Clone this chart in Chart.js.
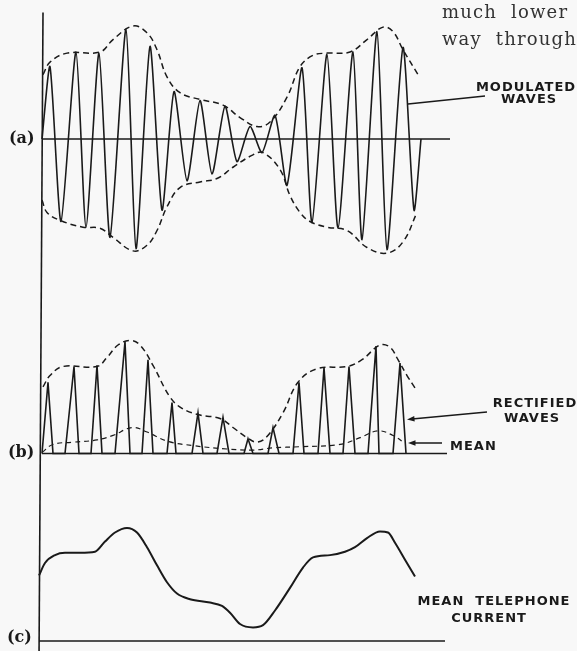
<!DOCTYPE html>
<html>
<head>
<meta charset="utf-8">
<script src="https://cdn.jsdelivr.net/npm/chart.js@4/dist/chart.umd.min.js"></script>
<style>
	html, body { margin: 0; padding: 0; background: #f8f8f8; }
	#wrap { position: relative; width: 577px; height: 651px; }
</style>
</head>
<body>
<div id="wrap"><canvas id="ondas" width="577" height="651"></canvas></div>
<script>
// (a) onda modulada: picos e vales da portadora (tempo, amplitude)
const carrierT = [0.0, 0.8, 1.9, 3.4, 4.4, 5.7, 6.8, 8.4, 9.4, 10.8, 12.0, 13.2, 14.5, 15.8, 17.0, 18.3, 19.5, 20.8, 22.0, 23.3, 24.5, 26.0, 27.0, 28.5, 29.6, 31.1, 32.0, 33.5, 34.5, 36.1, 37.2, 37.9];
const carrierV = [0, 0.64, -0.73, 0.77, -0.78, 0.76, -0.87, 0.97, -0.97, 0.82, -0.63, 0.42, -0.37, 0.34, -0.31, 0.29, -0.20, 0.11, -0.12, 0.21, -0.41, 0.63, -0.74, 0.75, -0.79, 0.77, -0.89, 0.95, -0.98, 0.81, -0.63, 0];

// envoltória superior e inferior (tracejada)
const envUpT = [0.1, 0.8, 2.5, 5.8, 7.1, 9.1, 10.5, 11.5, 12.5, 13.8, 15.8, 18.1, 19.8, 21.5, 22.8, 24.5, 25.8, 27.1, 28.5, 30.8, 32.5, 34.1, 35.1, 36.1, 37.6];
const envUpV = [0.57, 0.68, 0.76, 0.77, 0.88, 1.00, 0.94, 0.79, 0.55, 0.41, 0.35, 0.30, 0.19, 0.11, 0.15, 0.37, 0.64, 0.74, 0.76, 0.77, 0.88, 0.99, 0.95, 0.79, 0.57];
const envLowT = [0.0, 0.5, 1.8, 4.1, 5.8, 7.1, 9.1, 10.5, 11.5, 12.5, 13.8, 15.8, 17.5, 19.1, 21.1, 22.1, 23.8, 24.8, 25.8, 26.8, 28.5, 30.5, 32.5, 34.5, 36.1, 37.5];
const envLowV = [-0.54, -0.65, -0.72, -0.78, -0.79, -0.87, -0.99, -0.94, -0.81, -0.60, -0.43, -0.38, -0.35, -0.25, -0.14, -0.12, -0.27, -0.50, -0.65, -0.73, -0.78, -0.81, -0.96, -1.01, -0.91, -0.65];

// (b) ondas retificadas: cada pulso (inicio, pico, fim, altura)
const pulseStart = [0.0, 2.3, 4.9, 7.3, 10.0, 12.5, 15.0, 17.5, 20.2, 22.6, 25.1, 27.6, 30.1, 32.6, 35.1];
const pulsePeak  = [0.6, 3.2, 5.5, 8.3, 10.6, 13.0, 15.6, 18.1, 20.6, 23.1, 25.7, 28.2, 30.7, 33.4, 35.8];
const pulseEnd   = [1.1, 3.7, 6.0, 8.8, 11.1, 13.4, 16.1, 18.7, 21.1, 23.7, 26.2, 28.8, 31.3, 33.7, 36.4];
const pulseHeight = [0.63, 0.77, 0.78, 0.99, 0.83, 0.45, 0.36, 0.32, 0.13, 0.23, 0.63, 0.76, 0.77, 0.95, 0.80];

const rectEnvT = [0.1, 0.8, 2.1, 5.5, 6.5, 7.6, 8.8, 9.8, 11.1, 12.8, 14.0, 15.8, 17.8, 19.1, 20.5, 21.5, 22.5, 24.1, 25.6, 27.5, 30.5, 32.0, 33.8, 34.8, 35.6, 36.5, 37.3];
const rectEnvV = [0.59, 0.69, 0.77, 0.77, 0.85, 0.96, 1.00, 0.96, 0.78, 0.50, 0.40, 0.34, 0.31, 0.23, 0.14, 0.10, 0.15, 0.36, 0.63, 0.75, 0.77, 0.83, 0.96, 0.94, 0.83, 0.69, 0.58];

const meanT = [0.0, 1.1, 3.1, 5.5, 7.1, 9.0, 10.5, 12.5, 15.1, 18.5, 21.1, 23.1, 25.8, 29.8, 31.8, 33.6, 35.1, 36.3];
const meanV = [0.01, 0.08, 0.10, 0.12, 0.16, 0.23, 0.19, 0.11, 0.07, 0.04, 0.03, 0.05, 0.06, 0.08, 0.14, 0.20, 0.16, 0.09];

// (c) corrente media no telefone
const phoneT = [-0.3, 0.3, 1.3, 2.3, 3.8, 5.3, 6.3, 7.3, 8.5, 9.5, 10.5, 11.5, 12.5, 13.5, 14.8, 16.8, 18.0, 18.8, 19.8, 21.1, 22.1, 23.3, 24.8, 26.1, 27.1, 28.8, 30.3, 31.3, 32.5, 33.8, 34.6, 35.3, 36.3, 37.3];
const phoneV = [0.58, 0.69, 0.76, 0.78, 0.78, 0.79, 0.88, 0.96, 1.00, 0.96, 0.83, 0.67, 0.52, 0.42, 0.37, 0.34, 0.31, 0.25, 0.15, 0.12, 0.14, 0.27, 0.47, 0.65, 0.74, 0.76, 0.79, 0.83, 0.91, 0.97, 0.96, 0.87, 0.72, 0.57];

// eixos: comprimento de cada linha de base e extremos do eixo vertical
const baseEndA = 40.8, baseEndB = 40.5, baseStartC = -0.3, baseEndC = 40.3;
const axisTopT = 0.1, axisTopV = 1.12, axisBotT = -0.3, axisBotV = -4.6;

const ink = '#1a1a1a';
const H = 651, UNIT = 113; // altura do canvas, pixels por unidade de amplitude

function pts(ts, vs) {
	return ts.map((t, i) => ({ x: t, y: vs[i] }));
}

function pulsos() {
	let p = [];
	for (let i = 0; i < pulseStart.length; i++) {
		p.push({ x: pulseStart[i], y: 0 });
		p.push({ x: pulsePeak[i], y: pulseHeight[i] });
		p.push({ x: pulseEnd[i], y: 0 });
	}
	return p;
}

// escala de cada painel: linha de base em basePx
function painel(basePx) {
	return { type: 'linear', display: false, min: (basePx - H) / UNIT, max: basePx / UNIT };
}

const linha = (data, eixo, extra) => Object.assign({
	data: data,
	yAxisID: eixo,
	borderColor: ink,
	borderWidth: 1.5,
	pointRadius: 0,
	fill: false,
	tension: 0
}, extra || {});

const textos = {
	id: 'textos',
	afterDraw(chart) {
		const ctx = chart.ctx;
		ctx.save();
		ctx.fillStyle = ink;
		ctx.strokeStyle = ink;

		// trecho do texto do livro
		ctx.font = '18px "DejaVu Serif"';
		ctx.letterSpacing = '1.2px';
		ctx.textAlign = 'left';
		ctx.textBaseline = 'alphabetic';
		ctx.fillStyle = '#333';
		ctx.fillText('much  lower', 442, 18);
		ctx.fillText('way  through', 442, 45);

		// rótulos (a) (b) (c)
		ctx.fillStyle = ink;
		ctx.letterSpacing = '0px';
		ctx.font = 'bold 16px "DejaVu Serif"';
		ctx.textBaseline = 'middle';
		ctx.fillText('(a)', 9, 139);
		ctx.fillText('(b)', 8, 453);
		ctx.fillText('(c)', 7, 638);

		// legendas
		ctx.font = 'bold 13px "DejaVu Sans"';
		ctx.letterSpacing = '1px';
		ctx.textAlign = 'center';
		ctx.textBaseline = 'alphabetic';
		ctx.fillText('MODULATED', 526, 91);
		ctx.fillText('WAVES', 529, 103);
		ctx.fillText('RECTIFIED', 535, 407);
		ctx.fillText('WAVES', 532, 422);
		ctx.fillText('MEAN  TELEPHONE', 494, 605);
		ctx.fillText('CURRENT', 489, 622);
		ctx.textAlign = 'left';
		ctx.fillText('MEAN', 450, 450);

		// linhas de chamada
		ctx.lineWidth = 1.3;
		ctx.beginPath();
		ctx.moveTo(408, 104); ctx.lineTo(485, 96);
		ctx.moveTo(487, 412); ctx.lineTo(412, 419);
		ctx.moveTo(442, 443); ctx.lineTo(413, 443);
		ctx.stroke();
		const seta = (x, y, ang) => {
			ctx.beginPath();
			ctx.moveTo(x, y);
			ctx.lineTo(x + 8 * Math.cos(ang - 0.35), y + 8 * Math.sin(ang - 0.35));
			ctx.lineTo(x + 8 * Math.cos(ang + 0.35), y + 8 * Math.sin(ang + 0.35));
			ctx.closePath();
			ctx.fill();
		};
		seta(407, 419.5, Math.atan2(-7, 80));
		seta(408, 443, 0);
		ctx.restore();
	}
};

const ondas = new Chart(document.getElementById('ondas'), {
	type: 'line',
	data: {
		datasets: [
			// eixo vertical e linhas de base
			linha([{ x: axisTopT, y: axisTopV }, { x: axisBotT, y: axisBotV }], 'yA', { borderWidth: 1.6 }),
			linha([{ x: 0, y: 0 }, { x: baseEndA, y: 0 }], 'yA'),
			linha([{ x: 0, y: 0 }, { x: baseEndB, y: 0 }], 'yB'),
			linha([{ x: baseStartC, y: 0 }, { x: baseEndC, y: 0 }], 'yC'),
			// (a)
			linha(pts(carrierT, carrierV), 'yA', { tension: 0.22, borderWidth: 1.6 }),
			linha(pts(envUpT, envUpV), 'yA', { tension: 0.4, borderDash: [6, 4] }),
			linha(pts(envLowT, envLowV), 'yA', { tension: 0.4, borderDash: [6, 4] }),
			// (b)
			linha(pulsos(), 'yB', { borderWidth: 1.6 }),
			linha(pts(rectEnvT, rectEnvV), 'yB', { tension: 0.4, borderDash: [6, 4] }),
			linha(pts(meanT, meanV), 'yB', { tension: 0.4, borderDash: [5, 4], borderWidth: 1.2 }),
			// (c)
			linha(pts(phoneT, phoneV), 'yC', { cubicInterpolationMode: 'monotone', borderWidth: 2 })
		]
	},
	options: {
		responsive: false,
		animation: false,
		events: [],
		layout: { padding: 0 },
		plugins: {
			legend: { display: false },
			title: { display: false },
			tooltip: { enabled: false }
		},
		scales: {
			x: { type: 'linear', display: false, min: -4.2, max: 53.5 },
			yA: painel(139),
			yB: painel(453.5),
			yC: painel(641)
		}
	},
	plugins: [textos]
});
</script>
</body>
</html>
